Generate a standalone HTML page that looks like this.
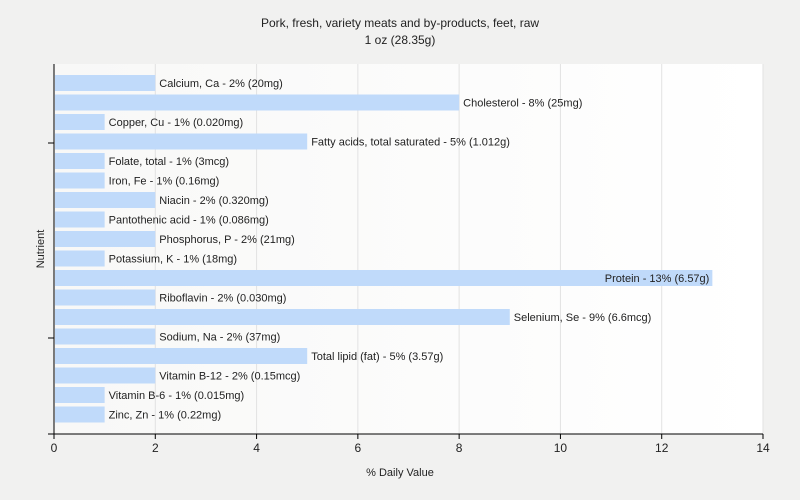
<!DOCTYPE html>
<html><head><meta charset="utf-8"><style>
body{margin:0;background:#f1f1f0;}
svg{display:block;font-family:"Liberation Sans",sans-serif;}
</style></head><body>
<svg id="chart" width="800" height="500">
<defs><linearGradient id="bg" x1="0" x2="1" y1="0" y2="0"><stop offset="0" stop-color="#f8f8f7"/><stop offset="1" stop-color="#ffffff"/></linearGradient></defs>
<rect width="800" height="500" fill="#f1f1f0"/>
<text x="400" y="27" text-anchor="middle" font-size="12" fill="#222">Pork, fresh, variety meats and by-products, feet, raw</text>
<text x="400" y="44" text-anchor="middle" font-size="12" fill="#222">1 oz (28.35g)</text>
<rect x="54" y="64" width="709" height="370" fill="url(#bg)"/>
<g id="grid"></g><g id="bars"></g><g id="axes"></g>
<text x="400" y="476" text-anchor="middle" font-size="11" fill="#222">% Daily Value</text>
<text transform="translate(44,249) rotate(-90)" text-anchor="middle" font-size="11" fill="#222">Nutrient</text>
</svg>
<script>
const categories=["Calcium, Ca","Cholesterol","Copper, Cu","Fatty acids, total saturated","Folate, total","Iron, Fe","Niacin","Pantothenic acid","Phosphorus, P","Potassium, K","Protein","Riboflavin","Selenium, Se","Sodium, Na","Total lipid (fat)","Vitamin B-12","Vitamin B-6","Zinc, Zn"];
const values=[2,8,1,5,1,1,2,1,2,1,13,2,9,2,5,2,1,1];
const amounts=["20mg","25mg","0.020mg","1.012g","3mcg","0.16mg","0.320mg","0.086mg","21mg","18mg","6.57g","0.030mg","6.6mcg","37mg","3.57g","0.15mcg","0.015mg","0.22mg"];
const xTicks=[0,2,4,6,8,10,12,14];
const NS="http://www.w3.org/2000/svg";
const x0=54,x1=763,xMax=14,top0=64,bottom=434;
const xs=v=>x0+(x1-x0)*v/xMax;
const yc=i=>83+i*19.5;
function mk(tag,attrs,parent){const e=document.createElementNS(NS,tag);for(const k in attrs)e.setAttribute(k,attrs[k]);document.getElementById(parent).appendChild(e);return e;}
xTicks.forEach(t=>{
 if(t>0){const g=mk('line',{x1:xs(t),x2:xs(t),y1:top0,y2:bottom,stroke:'#e2e2e2'},'grid');
 
 }
 const tk=mk('line',{x1:xs(t),x2:xs(t),y1:bottom,y2:bottom+5,stroke:'#000'},'axes');
 
 
 const lb=mk('text',{x:xs(t),y:bottom+18,'text-anchor':'middle','font-size':12,fill:'#222'},'axes');
 lb.textContent=t;
 
 
});
categories.forEach((c,i)=>{
 const r=mk('rect',{x:x0+1,y:yc(i)-8,width:xs(values[i])-x0-1,height:16,fill:'#c0dafa'},'bars');
 
 
 const t=mk('text',{'font-size':11,fill:'#222',y:yc(i)+4},'bars');
 t.textContent=c+' - '+values[i]+'% ('+amounts[i]+')';
 
 
 if(values[i]>=12){t.setAttribute('x',xs(values[i])-3);t.setAttribute('text-anchor','end');}
 else t.setAttribute('x',xs(values[i])+4);
});
const ya=mk('line',{x1:x0,x2:x0,y1:top0,y2:bottom,stroke:'#000'},'axes');


const xa=mk('line',{x1:x0-6,x2:x1,y1:bottom,y2:bottom,stroke:'#000'},'axes');


[143,338].forEach(y=>{const l=mk('line',{x1:x0-6,x2:x0,y1:y,y2:y,stroke:'#000'},'axes');
 
 });
</script>
</body></html>
